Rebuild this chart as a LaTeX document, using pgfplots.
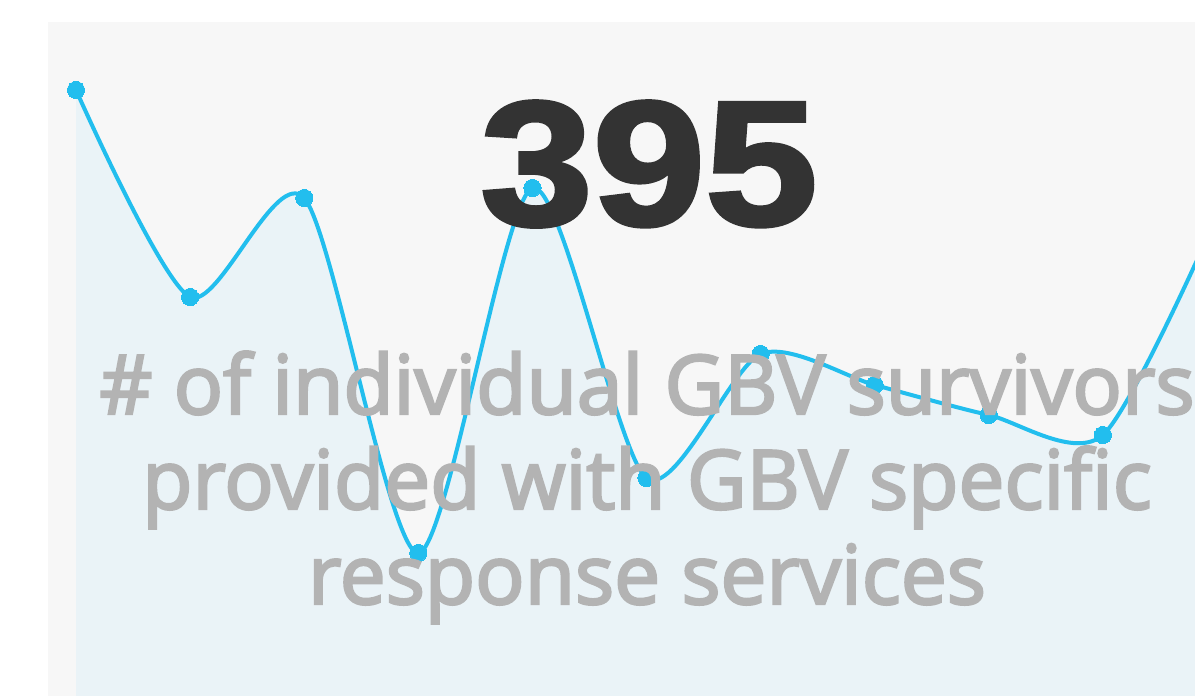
\documentclass[border=0pt]{standalone}
\usepackage{pgfplots}
\pgfplotsset{compat=1.18}
\usepackage{graphicx}
\usepackage{fontspec}
\setmainfont{Liberation Sans}
\newfontfamily\bignum{Liberation Sans Bold}[FakeBold=2.2]
\newfontfamily\subfont{Open Sans}[FakeBold=3]
\definecolor{panel}{HTML}{F7F7F7}
\definecolor{areacol}{HTML}{EAF3F7}
\definecolor{linecol}{HTML}{22BEEE}
\definecolor{subgrey}{HTML}{B3B3B3}
\definecolor{numcol}{HTML}{333333}
\begin{document}
\begin{tikzpicture}
\useasboundingbox (0,0) rectangle (597.5pt,348pt);
\clip (0,0) rectangle (597.5pt,348pt);
\fill[white] (0,0) rectangle (597.5pt,348pt);
\fill[panel] (24pt,0) rectangle (597.5pt,337pt);
\begin{axis}[
  at={(0,0)}, anchor=south west,
  scale only axis, width=597.5pt, height=348pt,
  hide axis,
  xmin=-0.6661, xmax=9.8072,
  ymin=0, ymax=69.6,
  clip=true,
]
\addplot[fill=areacol, draw=none, smooth, tension=0.45] coordinates {
 (0,60.6) (1,39.9) (2,49.8) (3,14.3) (4,50.8) (5,21.8)
 (6,34.2) (7,31.1) (8,28.1) (9,26.1) (10,48.0)
} \closedcycle;
\addplot[linecol, line width=2pt, smooth, tension=0.45, mark=*, mark size=4.3pt,
  mark options={fill=linecol, draw=linecol, line width=0pt}] coordinates {
 (0,60.6) (1,39.9) (2,49.8) (3,14.3) (4,50.8) (5,21.8)
 (6,34.2) (7,31.1) (8,28.1) (9,26.1) (10,48.0)
};
\end{axis}
\node[anchor=base, inner sep=0pt, text=numcol] at (324.5pt,235.5pt)
  {\scalebox{1.14}[1]{\bignum\fontsize{88.7pt}{90pt}\selectfont 395}};
\node[anchor=base, inner sep=0pt, text=subgrey] at (323.5pt,141pt)
  {\subfont\fontsize{41pt}{47pt}\selectfont \# of individual GBV survivors};
\node[anchor=base, inner sep=0pt, text=subgrey] at (323.5pt,93.5pt)
  {\subfont\fontsize{41pt}{47pt}\selectfont provided with GBV specific};
\node[anchor=base, inner sep=0pt, text=subgrey] at (323.5pt,46pt)
  {\subfont\fontsize{41pt}{47pt}\selectfont response services};
\end{tikzpicture}
\end{document}
